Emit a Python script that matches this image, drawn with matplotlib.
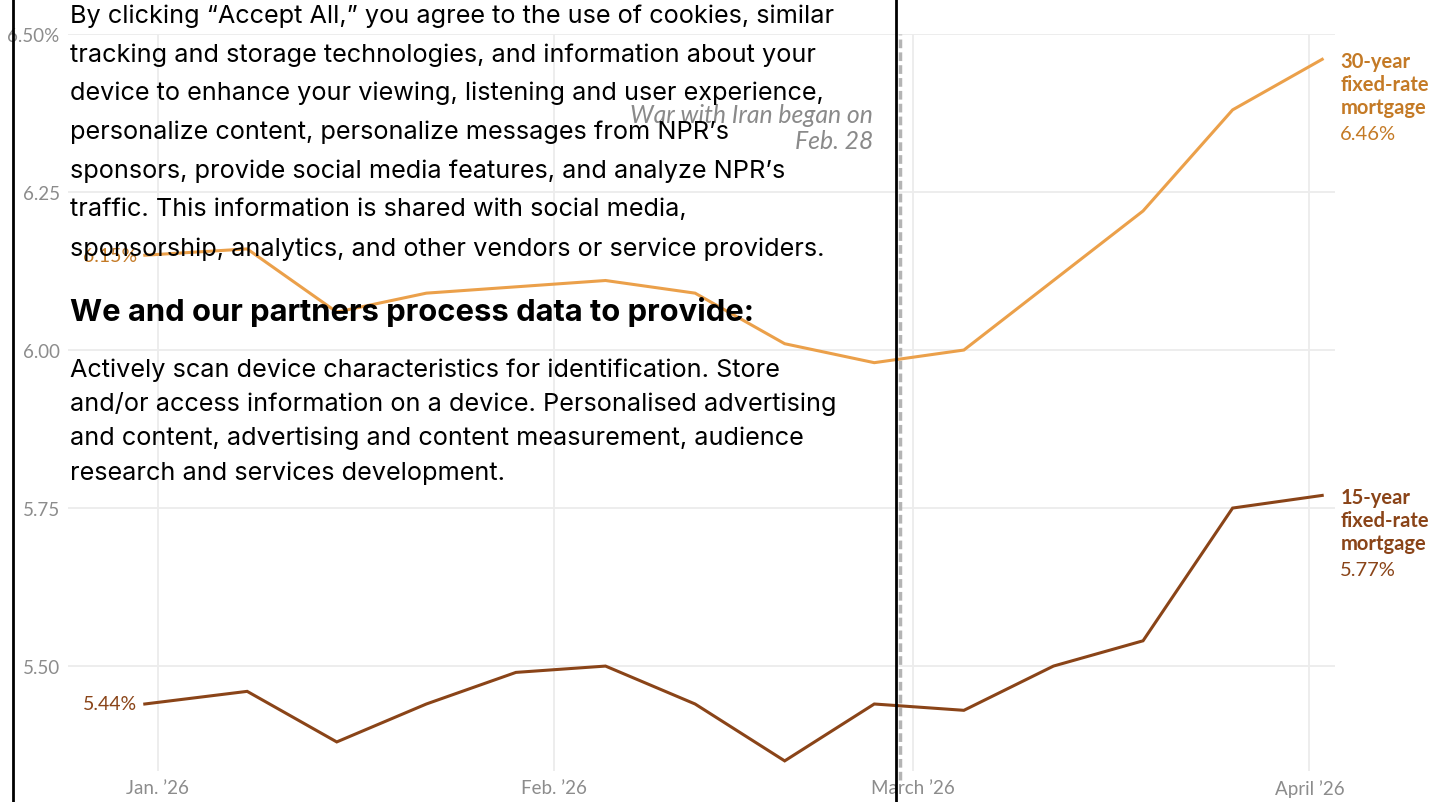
import numpy as np
import matplotlib
matplotlib.use("Agg")
import matplotlib.pyplot as plt
import matplotlib.dates as mdates
from matplotlib.lines import Line2D

# weekly Freddie Mac averages
dates = ["2025-12-31", "2026-01-08", "2026-01-15", "2026-01-22", "2026-01-29",
         "2026-02-05", "2026-02-12", "2026-02-19", "2026-02-26", "2026-03-05",
         "2026-03-12", "2026-03-19", "2026-03-26", "2026-04-02"]
rate_30 = [6.15, 6.16, 6.06, 6.09, 6.10, 6.11, 6.09, 6.01, 5.98, 6.00, 6.11, 6.22, 6.38, 6.46]
rate_15 = [5.44, 5.46, 5.38, 5.44, 5.49, 5.50, 5.44, 5.35, 5.44, 5.43, 5.50, 5.54, 5.75, 5.77]
month_ticks = ["2026-01-01", "2026-02-01", "2026-03-01", "2026-04-01"]
month_labels = ["Jan. \u201926", "Feb. \u201926", "March \u201926", "April \u201926"]
y_ticks = [5.50, 5.75, 6.00, 6.25, 6.50]
y_labels = ["5.50", "5.75", "6.00", "6.25", "6.50%"]
war_date = "2026-02-28"

c30_line = "#eba04a"
c30_text = "#c47a26"
c15_line = "#8a4418"
c15_text = "#8a4418"
grid_c = "#ececec"
tick_c = "#8c8c8c"

W, H = 1437, 803
fig = plt.figure(figsize=(W / 100, H / 100), dpi=100)
fig.patch.set_facecolor("white")

def px(x, y):
    return x / W, 1 - y / H

ax = fig.add_axes([68 / W, 1 - 772 / H, (1335 - 68) / W, (772 - 35) / H])
x = mdates.datestr2num(dates)
mt = mdates.datestr2num(month_ticks)

ax.set_xlim(mdates.datestr2num("2025-12-25"), mdates.datestr2num("2026-04-03"))
ax.set_ylim(5.334, 6.50)

for yv in y_ticks:
    ax.axhline(yv, color=grid_c, lw=1.3, zorder=0)
for xv in mt:
    ax.axvline(xv, color=grid_c, lw=1.3, zorder=0)

wx = mdates.datestr2num(war_date)
ax.plot([wx, wx], [5.32, 6.50], color="#b4b4b4", lw=2.5, ls=(0, (2.5, 1.2)),
        clip_on=False, zorder=1)
ax.text(wx - 2.1, 6.352, "War with Iran began on\nFeb. 28", ha="right", va="center",
        fontsize=17.8, style="italic", color="#8a8a8a", family="Lato", linespacing=1.15)

ax.plot(x, rate_30, color=c30_line, lw=2.2, solid_joinstyle="miter", zorder=3)
ax.plot(x, rate_15, color=c15_line, lw=2.2, solid_joinstyle="miter", zorder=3)

for s in ax.spines.values():
    s.set_visible(False)
ax.set_xticks(mt)
ax.set_xticklabels(month_labels, fontsize=13.5, color=tick_c, family="Lato")
ax.tick_params(axis="x", length=0, pad=6)
ax.set_yticks(y_ticks)
ax.set_yticklabels(y_labels, fontsize=13.5, color=tick_c, family="Lato")
ax.tick_params(axis="y", length=0, pad=6)

# start labels
ax.text(x[0] - 0.6, rate_15[0], "%.2f%%" % rate_15[0], ha="right", va="center",
        fontsize=14, color=c15_text, family="Lato")
ax.text(x[0] - 0.6, rate_30[0], "%.2f%%" % rate_30[0], ha="right", va="center",
        fontsize=14, color=c30_text, family="Lato")

# end labels
for vals, col, name in [(rate_30, c30_text, "30-year"), (rate_15, c15_text, "15-year")]:
    ax.annotate(name + "\nfixed-rate\nmortgage", (x[-1], vals[-1]), xytext=(13, 6),
                textcoords="offset points", ha="left", va="top", fontsize=14.5,
                fontweight="bold", color=col, family="Lato", linespacing=1.2,
                annotation_clip=False)
    ax.annotate("%.2f%%" % vals[-1], (x[-1], vals[-1]), xytext=(13, -47),
                textcoords="offset points", ha="left", va="top", fontsize=14.5,
                color=col, family="Lato", annotation_clip=False)

# cookie overlay
fig.add_artist(Line2D([13 / W, 13 / W], [0, 1], color="black", lw=2))
fig.add_artist(Line2D([896 / W, 896 / W], [0, 1], color="black", lw=2))

para1 = ["By clicking \u201cAccept All,\u201d you agree to the use of cookies, similar",
         "tracking and storage technologies, and information about your",
         "device to enhance your viewing, listening and user experience,",
         "personalize content, personalize messages from NPR\u2019s",
         "sponsors, provide social media features, and analyze NPR\u2019s",
         "traffic. This information is shared with social media,",
         "sponsorship, analytics, and other vendors or service providers."]
for i, line in enumerate(para1):
    fig.text(*px(70, 16 + i * 38.8), line, ha="left", va="center", fontsize=18.2,
             color="black", family="Inter")

fig.text(*px(70, 312), "We and our partners process data to provide:", ha="left",
         va="center", fontsize=22.3, fontweight="bold", color="black", family="Inter")

para2 = ["Actively scan device characteristics for identification. Store",
         "and/or access information on a device. Personalised advertising",
         "and content, advertising and content measurement, audience",
         "research and services development."]
for i, line in enumerate(para2):
    fig.text(*px(70, 370 + i * 34.3), line, ha="left", va="center", fontsize=18.2,
             color="black", family="Inter")

fig.savefig("out.png", dpi=100)
